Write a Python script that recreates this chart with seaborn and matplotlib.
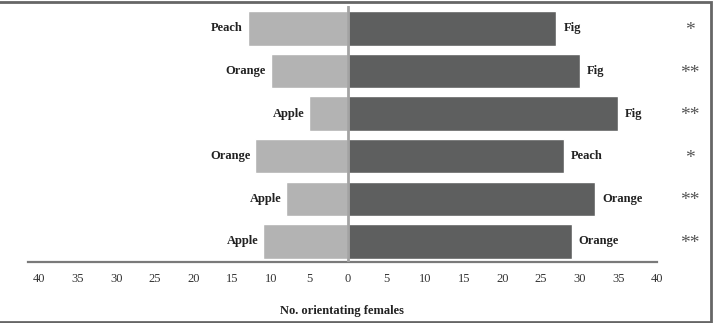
import pandas as pd
import matplotlib.pyplot as plt
import seaborn as sns
from matplotlib.patches import Rectangle

# data (top row first)
rows = ["r1", "r2", "r3", "r4", "r5", "r6"]
left_labels = ["Peach", "Orange", "Apple", "Orange", "Apple", "Apple"]
left_values = [13, 10, 5, 12, 8, 11]
right_labels = ["Fig", "Fig", "Fig", "Peach", "Orange", "Orange"]
right_values = [27, 30, 35, 28, 32, 29]
signif = ["*", "**", "**", "*", "**", "**"]
ticks = [-40, -35, -30, -25, -20, -15, -10, -5, 0, 5, 10, 15, 20, 25, 30, 35, 40]

sns.set_theme(style="white")
plt.rcParams["font.family"] = ["Liberation Serif", "DejaVu Serif"]

df = pd.DataFrame({
    "row": rows,
    "left": [-v for v in left_values],
    "right": right_values,
})

fig = plt.figure(figsize=(7.25, 3.23), dpi=100)
ax = fig.add_axes([0.038, 0.189, 0.868, 0.792])

sns.barplot(data=df, x="left", y="row", orient="h", color="#b3b3b3",
            saturation=1, width=0.81, ax=ax)
sns.barplot(data=df, x="right", y="row", orient="h", color="#5e5f5f",
            saturation=1, width=0.81, ax=ax)

ax.axvline(0, color="#a3a3a3", lw=2, zorder=5)

for i in range(len(rows)):
    ax.text(-left_values[i] - 0.6, i, left_labels[i], ha="right", va="center",
            fontsize=9, fontweight="bold", color="#222222")
    ax.text(right_values[i] + 0.9, i, right_labels[i], ha="left", va="center",
            fontsize=9, fontweight="bold", color="#222222")
    ax.text(44.3, i + 0.05, signif[i], ha="center", va="center", fontsize=14,
            color="#555555", clip_on=False)

ax.set_xlim(-41.5, 40)
ax.set_ylim(5.48, -0.52)
ax.set_xticks(ticks)
ax.set_xticklabels([str(abs(t)) for t in ticks], fontsize=9, color="#333333")
ax.tick_params(axis="x", length=0, pad=8)
ax.set_yticks([])
ax.set_ylabel("")
ax.set_xlabel("No. orientating females", fontsize=9, fontweight="bold",
              labelpad=14, color="#222222")
for s in ["top", "right", "left"]:
    ax.spines[s].set_visible(False)
ax.spines["bottom"].set_color("#7a7a7a")
ax.spines["bottom"].set_linewidth(1.6)

# outer frame around the figure
fig.patches.append(Rectangle((-0.01, 0.004), 0.99, 0.99, transform=fig.transFigure,
                             fill=False, edgecolor="#666666", lw=2))

plt.savefig("out.png", dpi=100)
